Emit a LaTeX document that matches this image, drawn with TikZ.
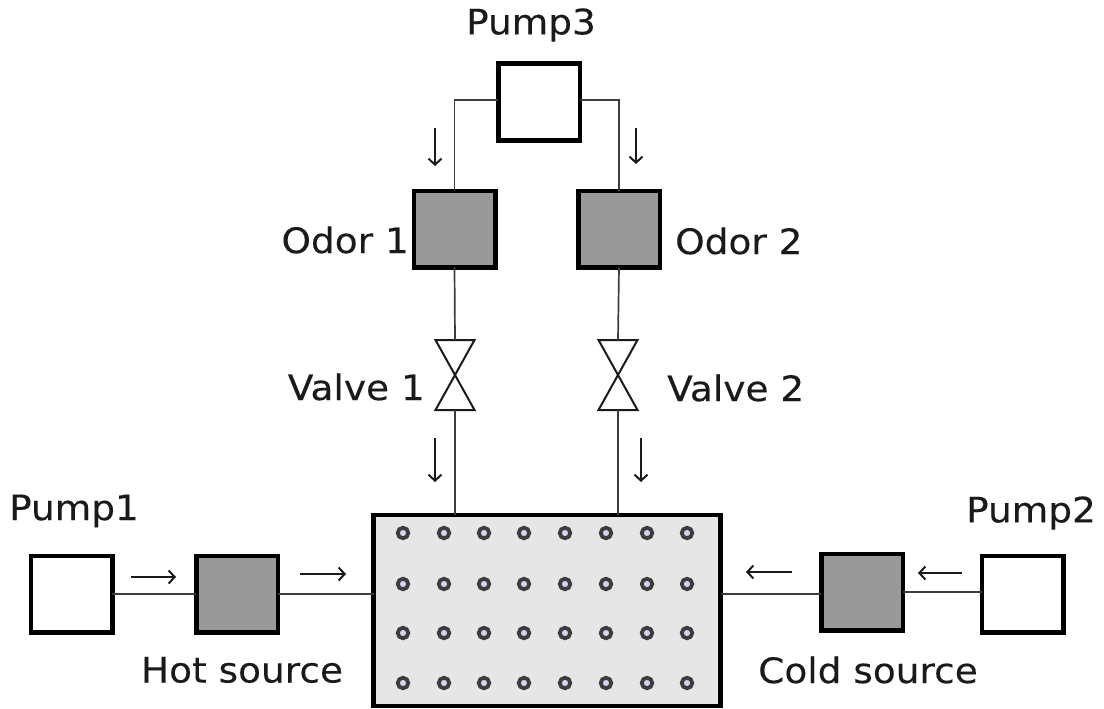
\documentclass[tikz,border=0pt]{standalone}
\usepackage{fontspec}
\setmainfont[FakeStretch=1.07,FakeBold=0.25]{DejaVu Sans}
\usetikzlibrary{arrows.meta}
\definecolor{srcgray}{HTML}{999999}
\definecolor{tankgray}{HTML}{E6E6E6}
\definecolor{holefill}{HTML}{D4D4F0}
\definecolor{ink}{HTML}{1A1A1A}
\tikzset{
  x=1pt,y=-1pt,
  box/.style={draw=black,line width=4.5pt,minimum width=81.5pt,minimum height=76.5pt,inner sep=0pt,outer sep=0pt,anchor=center},
  pumpbox/.style={box,fill=white},
  sourcebox/.style={box,fill=srcgray},
  tank/.style={draw=black,line width=4.5pt,fill=tankgray,minimum width=347pt,minimum height=191pt,inner sep=0pt,outer sep=0pt},
  pipe/.style={draw=ink!85,line width=1.7pt},
  flow/.style={draw=ink,line width=1.5pt,-{Straight Barb[length=6pt,width=13pt,line width=2pt]}},
  valve/.style={minimum width=39pt,minimum height=70pt,inner sep=0pt,outer sep=0pt},
  valveline/.style={draw=ink,line width=2pt,fill=white,line join=miter},
  lab/.style={font=\fontsize{35pt}{37pt}\selectfont,text=ink,inner sep=0pt},
  hole/.style={circle,draw=ink!85,line width=3.8pt,fill=holefill,minimum size=10.5pt,inner sep=0pt}
}
\begin{document}
\begin{tikzpicture}
\useasboundingbox (0,0) rectangle (1104,709);
% nodes
\node[tank] (chamber) at (547,610.5) {};
\node[pumpbox] (pumpA) at (71.5,594) {};
\node[sourcebox] (hot) at (237,594) {};
\node[sourcebox] (cold) at (862,592) {};
\node[pumpbox] (pumpB) at (1022.5,594) {};
\node[pumpbox] (pumpC) at (539,102) {};
\node[sourcebox] (odorA) at (454.5,229) {};
\node[sourcebox] (odorB) at (619,229) {};
\node[valve] (valveA) at (455,375) {};
\node[valve] (valveB) at (618,375) {};
% valves
\foreach \v in {valveA,valveB}
  \draw[valveline] (\v.north west) -- (\v.north east) -- (\v.south west) -- (\v.south east) -- cycle;
% pipes
\draw[pipe] (pumpA.east) -- (hot.west);
\draw[pipe] (hot.east) -- (hot.east -| chamber.west);
\draw[pipe] (cold.west |- 0,594) -- (chamber.east |- 0,594);
\draw[pipe] (pumpB.west |- 0,592) -- (cold.east |- 0,592);
\draw[pipe] (pumpC.west |- 0,100) -| (odorA.north);
\draw[pipe] (pumpC.east |- 0,100) -| (odorB.north);
\draw[pipe] (odorA.south) -- (valveA.north);
\draw[pipe] (odorB.south) -- (valveB.north);
\draw[pipe] (valveA.south) -- (valveA.south |- chamber.north);
\draw[pipe] (valveB.south) -- (valveB.south |- chamber.north);
% flow arrows
\coordinate (a1s) at (435,128); \coordinate (a1e) at (435,166);
\coordinate (a2s) at (636,128); \coordinate (a2e) at (636,164);
\coordinate (a3s) at (435,438); \coordinate (a3e) at (435,482);
\coordinate (a4s) at (641,438); \coordinate (a4e) at (641,482);
\coordinate (a5s) at (131,577); \coordinate (a5e) at (176,577);
\coordinate (a6s) at (300,574); \coordinate (a6e) at (346,574);
\coordinate (a7s) at (792,572); \coordinate (a7e) at (746,572);
\coordinate (a8s) at (962,573); \coordinate (a8e) at (918,573);
\foreach \i in {1,...,8} \draw[flow] (a\i s) -- (a\i e);
% holes
\foreach \y/\r in {533/a,584/b,633/c,683/d}
  \foreach \x/\c in {403/1,444/2,484/3,524/4,565/5,606/6,647/7,687/8}
    \node[hole] (h\r\c) at (\x,\y) {};
% labels
\node[lab] (lpumpC) at (531,25) {Pump3};
\node[lab,anchor=east] (lodorA) at (409,240) {Odor 1};
\node[lab,anchor=west] (lodorB) at (675,241) {Odor 2};
\node[lab,anchor=east] (lvalveA) at (425,387) {Valve 1};
\node[lab,anchor=west] (lvalveB) at (667,388) {Valve 2};
\node[lab] (lpumpA) at (74,511) {Pump1};
\node[lab] (lpumpB) at (1031,513) {Pump2};
\node[lab] (lhot) at (242,670) {Hot source};
\node[lab] (lcold) at (868,670) {Cold source};
\end{tikzpicture}
\end{document}
